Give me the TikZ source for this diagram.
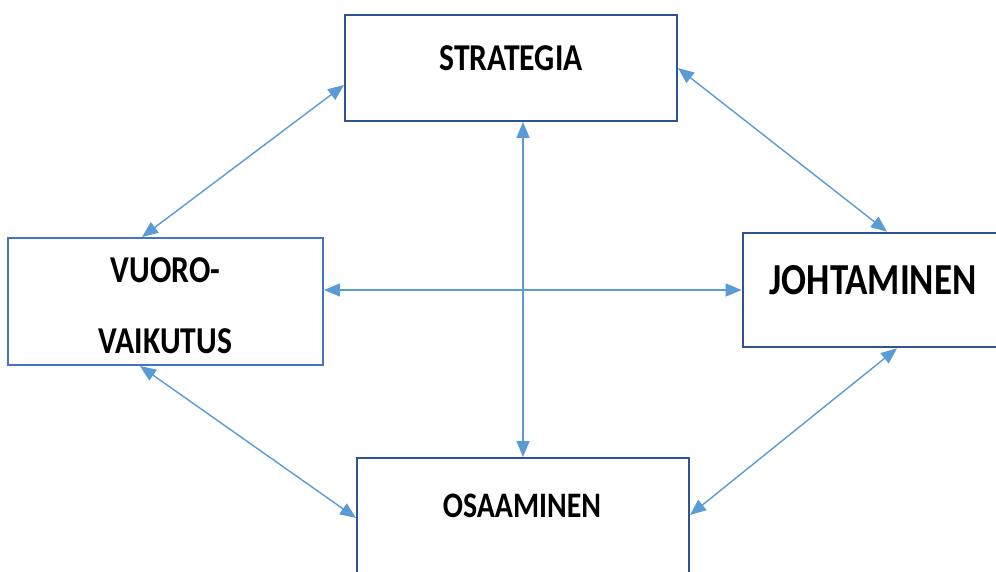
\documentclass[tikz,border=0pt]{standalone}
\usepackage{fontspec}
\setmainfont{Carlito}
\usetikzlibrary{arrows.meta}
\definecolor{boxblue}{RGB}{47,84,150}
\definecolor{lightbox}{RGB}{68,114,196}
\definecolor{arrowblue}{RGB}{91,155,213}
\newcommand{\tall}[1]{\scalebox{1}[1.2]{#1}}
\begin{document}
\begin{tikzpicture}
\tikzstyle{every node}=[inner sep=0pt]
\tikzstyle{box}=[draw=boxblue, line width=1.1pt, rectangle]
\tikzstyle{lbl}=[font=\fontsize{18}{18}\selectfont\bfseries]
\tikzstyle{link}=[draw=arrowblue, line width=0.8pt, {Triangle[length=0.32cm,width=0.26cm]}-{Triangle[length=0.32cm,width=0.26cm]}]
\useasboundingbox (0,0) rectangle (19.92,-11.44);
\node (strat) [box, minimum width=6.64cm, minimum height=2.12cm] at (10.22,-1.36) {};
\node (vuoro) [box, draw=lightbox, minimum width=6.3cm, minimum height=2.54cm] at (3.31,-6.03) {};
\node (johta) [box, line width=1.5pt, minimum width=5.2cm, minimum height=2.28cm] at (17.46,-5.8) {};
\node (osa) [box, minimum width=6.64cm, minimum height=2.4cm] at (10.46,-10.36) {};
\node (stratlbl) [lbl] at (10.22,-1.16) {\tall{STRATEGIA}};
\node (vuorolbl1) [lbl] at (3.31,-5.4) {\tall{VUORO-}};
\node (vuorolbl2) [lbl] at (3.31,-6.82) {\tall{VAIKUTUS}};
\node (johtalbl) [lbl, font=\fontsize{21}{21}\selectfont\bfseries] at (17.46,-5.6) {\tall{JOHTAMINEN}};
\node (osalbl) [lbl, font=\fontsize{17}{17}\selectfont\bfseries] at (10.44,-10.12) {\tall{OSAAMINEN}};
\draw [link] ([yshift=-0.34cm]strat.west) -- ([xshift=-0.47cm]vuoro.north);
\draw [link] (strat.east) -- ([xshift=0.28cm]johta.north);
\draw [link] (strat.south -| osa.north) -- (osa.north);
\draw [link] (vuoro.east |- johta.west) -- (johta.west);
\draw [link] ([xshift=-0.51cm]vuoro.south) -- (osa.west);
\draw [link] ([xshift=0.48cm]johta.south) -- ([yshift=0.06cm]osa.east);
\end{tikzpicture}
\end{document}
